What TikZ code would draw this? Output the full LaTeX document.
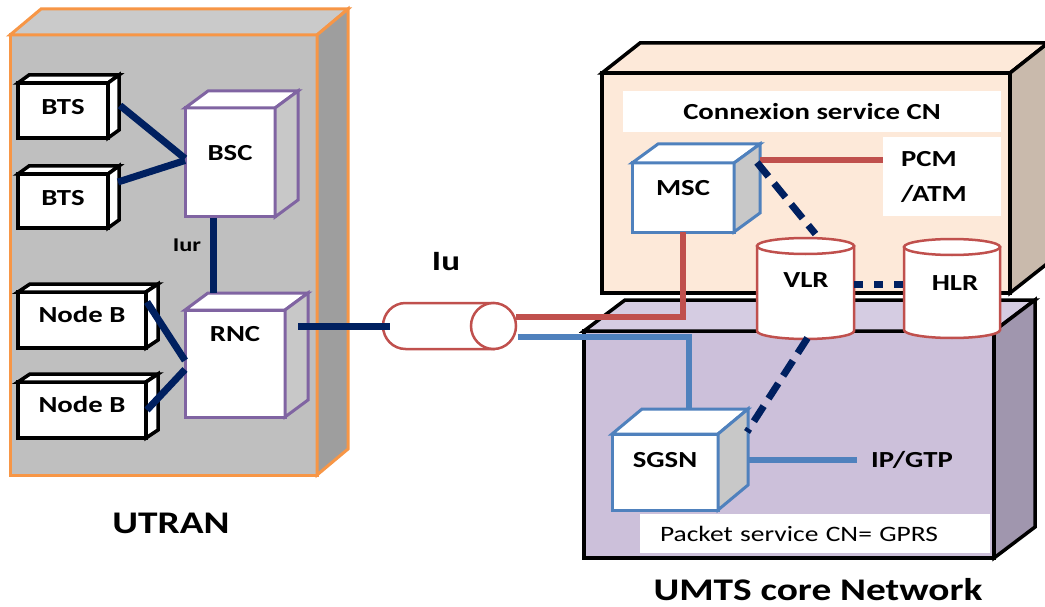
\documentclass[tikz,border=0pt]{standalone}
\usepackage{fontspec}
\newfontfamily\lblfont[FakeStretch=1.25]{Carlito}
\usetikzlibrary{calc}
\definecolor{navy}{RGB}{0,32,96}
\definecolor{cred}{RGB}{192,80,77}
\definecolor{cblue}{RGB}{79,129,189}
\definecolor{cpurple}{RGB}{128,100,162}
\definecolor{corange}{RGB}{247,150,70}
\definecolor{gfront}{RGB}{191,191,191}
\definecolor{gtop}{RGB}{202,202,202}
\definecolor{gside}{RGB}{158,158,158}
\definecolor{pfront}{RGB}{253,233,217}
\definecolor{pside}{RGB}{201,186,172}
\definecolor{lfront}{RGB}{204,192,218}
\definecolor{ltop}{RGB}{213,204,226}
\definecolor{lside}{RGB}{160,150,174}
\definecolor{cubeside}{RGB}{200,200,200}
% #1 style, #2 node, #3 dx, #4 dy, #5 top fill, #6 side fill
\newcommand\depthfaces[6]{%
  \draw[#1, fill=#5] (#2.north west) -- ++(#3,#4) -- ([shift={(#3,#4)}]#2.north east) -- (#2.north east) -- cycle;
  \draw[#1, fill=#6] (#2.north east) -- ++(#3,#4) -- ([shift={(#3,#4)}]#2.south east) -- (#2.south east) -- cycle;
}
% cylinder drawn around an invisible node: #1 node, #2 x radius, #3 y radius
\newcommand\vcyl[3]{%
  \draw[cylline, fill=white] (#1.north west) -- (#1.south west) arc[start angle=180, end angle=360, x radius=#2pt, y radius=#3pt] -- (#1.north east) -- cycle;
  \draw[cylline, fill=white] (#1.north) ellipse[x radius=#2pt, y radius=#3pt];
}
\begin{document}
\begin{tikzpicture}[x=1pt, y=-1pt,
  lbl/.style={font=\lblfont\bfseries\fontsize{23}{28}\selectfont, text=black},
  face/.style={rectangle, inner sep=0pt, outer sep=0pt},
  blackcube/.style={face, draw=black, line width=3.5pt, fill=white, lbl},
  purplecube/.style={face, draw=cpurple, line width=3pt, fill=white, lbl},
  bluecube/.style={face, draw=cblue, line width=3pt, fill=white, lbl},
  lift/.style={text depth=#1},
  bigbox/.style={face, line width=3.5pt},
  whitelabel/.style={face, fill=white, lbl},
  cylline/.style={draw=cred, line width=2.5pt},
  invis/.style={face, lbl},
  navyl/.style={draw=navy, line width=7pt},
  redl/.style={draw=cred, line width=6pt},
  bluel/.style={draw=cblue, line width=5.5pt},
  dashl/.style={draw=navy, line width=7pt, dash pattern=on 18pt off 9pt},
  dotl/.style={draw=navy, line width=7pt, dash pattern=on 9pt off 11pt},
  title/.style={font=\lblfont\bfseries\fontsize{31.5}{36}\selectfont, text=black}
]
\fill[white] (0,0) rectangle (1045,607);
\useasboundingbox (0,0) rectangle (1045,607);

% ---------------- UTRAN ----------------
\node[bigbox, draw=corange, line width=3pt, fill=gfront, minimum width=307, minimum height=440] (utran) at (163.5,255) {};
\depthfaces{draw=corange, line width=3pt}{utran}{31}{-26}{gtop}{gside}

\node[blackcube, lift=7, minimum width=90, minimum height=55] (bts1) at (63,110.5) {BTS};
\depthfaces{draw=black, line width=3.5pt}{bts1}{11}{-8}{white}{white}
\node[blackcube, lift=7, minimum width=90, minimum height=54] (bts2) at (63,201) {BTS};
\depthfaces{draw=black, line width=3.5pt}{bts2}{11}{-8}{white}{white}
\node[blackcube, lift=12, minimum width=128, minimum height=56] (nodeb1) at (82,320) {Node B};
\depthfaces{draw=black, line width=3.5pt}{nodeb1}{12}{-8}{white}{white}
\node[blackcube, lift=12, minimum width=128, minimum height=56] (nodeb2) at (82,410) {Node B};
\depthfaces{draw=black, line width=3.5pt}{nodeb2}{12}{-8}{white}{white}

\node[purplecube, lift=20, minimum width=90, minimum height=109] (bsc) at (230,162.5) {BSC};
\depthfaces{draw=cpurple, line width=3pt}{bsc}{23}{-17}{white}{cubeside}
\node[purplecube, lift=60, minimum width=100, minimum height=107] (rnc) at (235,363.5) {RNC};
\depthfaces{draw=cpurple, line width=3pt}{rnc}{23}{-17}{white}{cubeside}

\draw[navyl] ([shift={(12,-5)}]bts1.east) -- ([shift={(0,-4)}]bsc.west);
\draw[navyl] ([shift={(10,-19)}]bts2.east) -- ([shift={(0,-2)}]bsc.west);
\draw[navyl] ([shift={(-17,1)}]bsc.south) -- ([shift={(-22,-17)}]rnc.north);
\draw[navyl] ([shift={(1,-18)}]nodeb1.east) -- ([shift={(0,-3)}]rnc.west);
\draw[navyl] ([shift={(1,0)}]nodeb2.east) -- ([shift={(0,6)}]rnc.west);
\node[font=\lblfont\bfseries\fontsize{19.5}{24}\selectfont] (iur) at (187,245) {Iur};

\node[title] (utrantitle) at (171,523) {UTRAN};

% ---------------- core network boxes ----------------
\node[bigbox, draw=black, fill=pfront, minimum width=408, minimum height=220] (cs) at (806,183) {};
\depthfaces{draw=black, line width=3.5pt}{cs}{38}{-30}{pfront}{pside}
\node[bigbox, draw=black, fill=lfront, minimum width=410, minimum height=227] (ps) at (789,444.5) {};
\depthfaces{draw=black, line width=3.5pt}{ps}{41}{-31}{ltop}{lside}

\node[whitelabel, minimum width=378, minimum height=41] (cstitle) at (812,111.5) {Connexion service CN};
\node[whitelabel, minimum width=118, minimum height=79, text width=82, inner xsep=18, align=left, font=\lblfont\bfseries\fontsize{23}{35}\selectfont] (pcm) at (942,176.5) {PCM\\/ATM};
\node[whitelabel, minimum width=350, minimum height=39, text width=310, inner xsep=20, align=left, font=\lblfont\fontsize{22}{26}\selectfont] (pstitle) at (815,533.5) {Packet service CN= GPRS};

\node[bluecube, lift=20, minimum width=102, minimum height=69] (msc) at (683,197.5) {MSC};
\depthfaces{draw=cblue, line width=3pt}{msc}{26}{-19}{white}{cubeside}
\node[bluecube, lift=24, minimum width=106, minimum height=76] (sgsn) at (665,472) {SGSN};
\depthfaces{draw=cblue, line width=3pt}{sgsn}{30}{-25}{white}{cubeside}

% cylinders (outline drawn around invisible named nodes, labels on top)
\node[invis, minimum width=97, minimum height=85] (vlr) at (805.5,288.5) {};
\vcyl{vlr}{48.5}{8}
\node[invis, minimum width=96, minimum height=83] (hlr) at (952,288.5) {};
\vcyl{hlr}{48}{8}
\node[lbl] (vlrlabel) at (806,280) {VLR};
\node[lbl] (hlrlabel) at (955,283) {HLR};

% Iu cable
\node[invis, minimum width=88, minimum height=46] (iu) at (449.5,326) {};
\draw[cylline, fill=white] (iu.north east) -- (iu.north west) arc[start angle=90, end angle=270, x radius=22.5pt, y radius=23pt] -- (iu.south east) -- cycle;
\draw[cylline, fill=white] (iu.east) ellipse[x radius=22.5pt, y radius=23pt];
\node[font=\lblfont\bfseries\fontsize{28}{32}\selectfont] (iulabel) at (446,262) {Iu};

\coordinate (rncport) at (298,326);
\draw[navyl] (rncport) -- ([shift={(-15.5,0)}]iu.west);

% connections
\draw[redl] ([shift={(22.5,-9)}]iu.east) -| (msc.south);
\draw[bluel] ([shift={(24,11)}]iu.east) -| ([shift={(24,-25)}]sgsn.north);

\coordinate (mscpcm) at ([shift={(26,-37)}]msc.east);
\draw[redl] (mscpcm) -- (mscpcm -| pcm.west);

\draw[dashl] ([shift={(23,-35)}]msc.east) -- ([shift={(10,-12)}]vlr.north);
\draw[dotl] ([shift={(0,-4.5)}]vlr.east) -- ([shift={(0,-4.5)}]hlr.west);
\draw[dashl] ([shift={(2,7)}]vlr.south) -- ([shift={(29,-2)}]sgsn.north east);

\node[lbl, inner xsep=14] (ipgtp) at (912,460) {IP/GTP};
\draw[bluel] ([shift={(30,-12)}]sgsn.east) -- (ipgtp.west);

\node[title] (umtstitle) at (818,590) {UMTS core Network};
\end{tikzpicture}
\end{document}
